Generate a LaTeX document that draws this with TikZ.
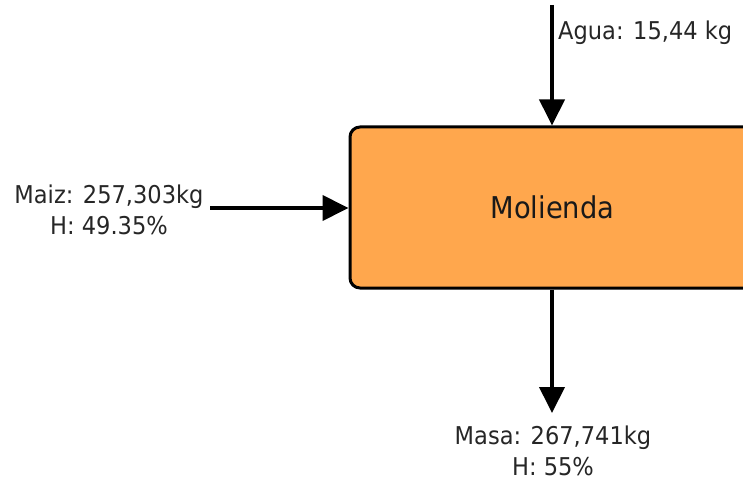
\documentclass[tikz,border=0pt]{standalone}
\usepackage{fontspec}
\setmainfont{DejaVu Sans}
\newfontfamily\lblfont[FakeStretch=0.92]{DejaVu Sans}
\newfontfamily\boxfont[FakeStretch=0.91]{DejaVu Sans}
\usetikzlibrary{arrows.meta}
\definecolor{boxorange}{HTML}{FFA74D}
\tikzset{
  flow/.style={line width=4pt,-{Triangle[length=26pt,width=25pt]}},
  lbl/.style={font=\lblfont\fontsize{24.5}{31}\selectfont,align=center,inner sep=0pt,text=black!85},
  procbox/.style={draw=black,line width=3pt,fill=boxorange,rounded corners=10pt,
    minimum width=405pt,minimum height=161pt,inner sep=0pt,font=\boxfont\fontsize{30}{34}\selectfont,text=black!90}
}
\begin{document}
\begin{tikzpicture}[x=1pt,y=-1pt]
\useasboundingbox (0,0) rectangle (743,481);
\clip (0,0) rectangle (743,481);
\node[procbox] (mol) at (552.5,207.5) {Molienda};
\coordinate (atop) at (552,5);
\coordinate (mbot) at (552,413);
\coordinate (lstart) at (210,208);
\node[lbl] (maiz) at (109,210) {Maiz: 257,303kg\\H: 49.35\%};
\node[lbl,anchor=west] (agua) at (558,33) {Agua: 15,44 kg};
\node[lbl] (masa) at (553,451) {Masa: 267,741kg\\H: 55\%};
\draw[flow] (atop) -- (mol.north -| atop);
\draw[flow] (lstart) -- (mol.west |- lstart);
\draw[flow] (mol.south -| mbot) -- (mbot);
\end{tikzpicture}
\end{document}
